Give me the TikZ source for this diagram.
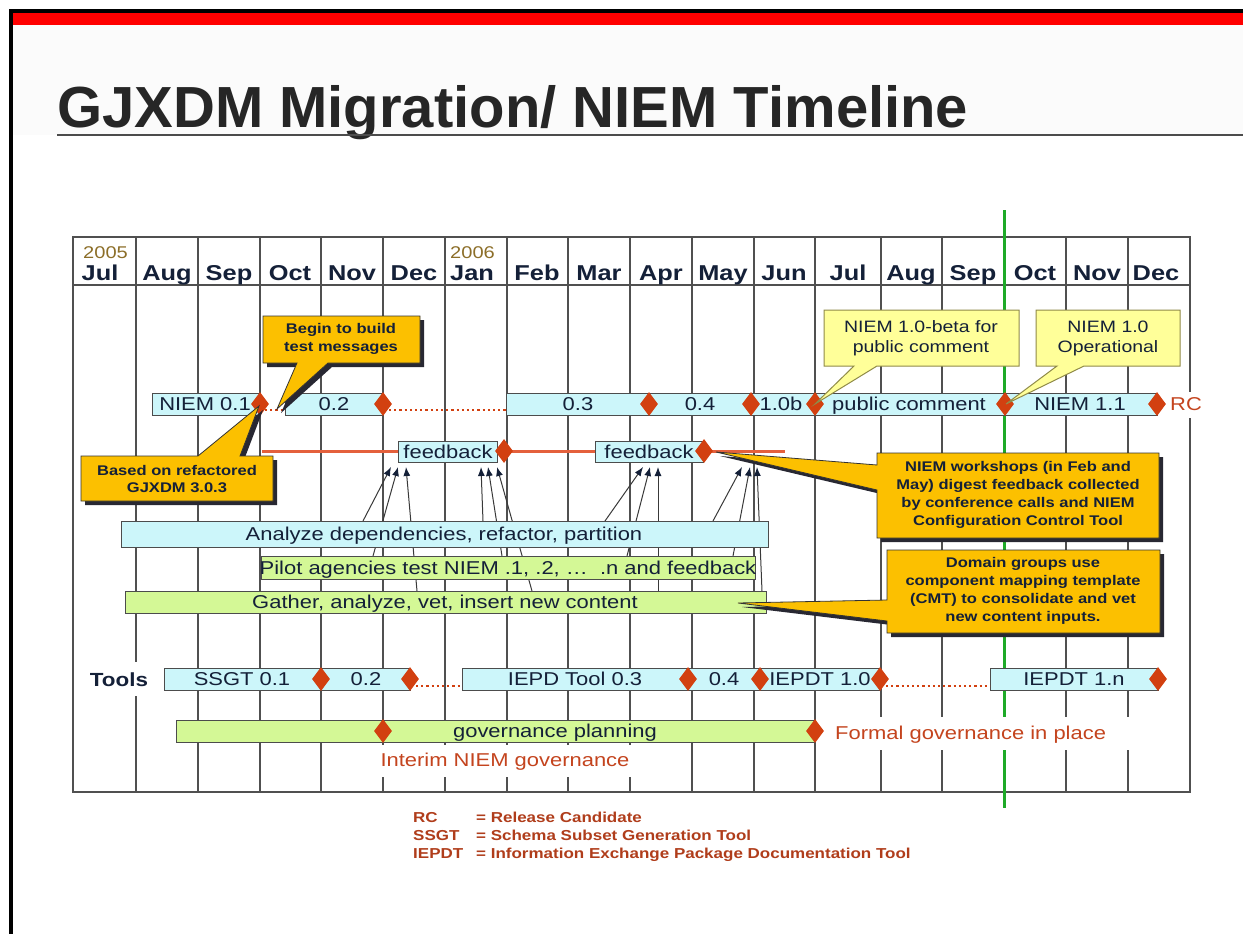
\documentclass[tikz,border=0pt]{standalone}
\usepackage{fontspec}
\setmainfont{Liberation Sans}
\newfontfamily\cf[FakeStretch=1.18]{Liberation Sans}
\usetikzlibrary{shapes.geometric,arrows.meta}
\definecolor{navy}{RGB}{20,32,56}
\definecolor{cyanfill}{RGB}{204,246,250}
\definecolor{greenfill}{RGB}{212,248,150}
\definecolor{diam}{RGB}{210,64,16}
\definecolor{redtxt}{RGB}{196,68,30}
\definecolor{gold}{RGB}{252,192,0}
\definecolor{lyellow}{RGB}{255,255,153}
\definecolor{gridc}{RGB}{80,80,80}
\definecolor{yearc}{RGB}{140,110,40}
\definecolor{titlec}{RGB}{38,38,38}
\definecolor{greenl}{RGB}{30,170,40}
\definecolor{fbline}{RGB}{228,96,60}
\definecolor{shadowc}{RGB}{40,40,50}
\tikzset{
  gridline/.style={draw=gridc, line width=1.4pt},
  barbox/.style={draw=gray!60!black, line width=0.8pt, inner sep=0pt, anchor=north west},
  cbar/.style={barbox, fill=cyanfill},
  gbar/.style={barbox, fill=greenfill},
  ms/.style={diamond, fill=diam, inner sep=0pt, minimum width=18pt, minimum height=24pt},
  blab/.style={font=\cf\fontsize{18.6}{20}\selectfont, text=navy, inner sep=0pt, anchor=base},
  rlab/.style={font=\cf\fontsize{18.6}{20}\selectfont, text=redtxt, inner sep=0pt, anchor=base},
  monthlab/.style={font=\cf\bfseries\fontsize{21.5}{22}\selectfont, text=navy, inner sep=0pt, anchor=base},
  yearlab/.style={font=\cf\fontsize{17}{17}\selectfont, text=yearc, inner sep=0pt, anchor=base west},
  dotline/.style={draw=diam, line width=2.2pt, dash pattern=on 2.2pt off 3pt},
  fbarrow/.style={draw=gray!45!black, line width=1pt, -{Latex[length=9pt,width=7pt,color=navy]}},
  goldcall/.style={fill=gold, draw=gray!40!black, line width=0.8pt},
  shadowcall/.style={fill=shadowc},
  ycall/.style={fill=lyellow, draw=gray!50!olive, line width=1pt},
  calltxt/.style={font=\cf\bfseries\fontsize{14}{17.5}\selectfont, text=navy, align=center, inner sep=0pt},
  ycalltxt/.style={font=\cf\fontsize{16.5}{20}\selectfont, text=navy, align=center, inner sep=0pt},
  legtxt/.style={font=\cf\bfseries\fontsize{14.4}{17}\selectfont, text=redtxt!90!black, inner sep=0pt, anchor=base west},
}
\begin{document}
\begin{tikzpicture}[x=1pt,y=-1pt]
\useasboundingbox (0,0) rectangle (1243,934);
\fill[white] (0,0) rectangle (1243,934);
% slide frame
\fill[black] (9,9) rectangle (1243,13);
\fill[black] (9,9) rectangle (13,934);
\fill[red] (13,13) rectangle (1243,25);
\fill[gray!3] (13,25) rectangle (1243,135);
% title
\node[anchor=base west, inner sep=0pt, text=titlec, font=\bfseries\fontsize{58}{60}\selectfont] (title) at (57,127) {GJXDM Migration/ NIEM Timeline};
\draw[gray!60!black, line width=1.5pt] (57,135) -- (1243,135);

% grid
\fill[white] (73,237) rectangle (1190,792);
\foreach \x in {136,198,260,321,383,445,507,568,630,692,754,815,881,942,1066,1128}
  \draw[gridline] (\x,237) -- (\x,792);
\draw[gridline] (1004,237) -- (1004,792);
\draw[gridline] (73,237) rectangle (1190,792);
\draw[gridline] (73,285) -- (1190,285);
% green line
\draw[greenl, line width=3pt] (1004,210) -- (1004,808);

% month labels
\node[yearlab] (y2005) at (83,258) {2005};
\node[yearlab] (y2006) at (450,258) {2006};
\foreach \x/\m [count=\i] in {100/Jul,167/Aug,229/Sep,290/Oct,352/Nov,414/Dec,472/Jan,537/Feb,599/Mar,661/Apr,723/May,784/Jun,848/Jul,911/Aug,973/Sep,1035/Oct,1097/Nov,1156/Dec}
  \node[monthlab] (mon\i) at (\x,280) {\m};

% white bands behind labels
\fill[white] (88,662) rectangle (150,696);
\fill[white] (375,745) rectangle (640,777);
\fill[white] (822,717) rectangle (1180,750);
\fill[white] (1166,392) rectangle (1205,418);

% feedback line
\draw[fbline, line width=3pt] (262,451) -- (785,451);

% arrows from activity bars to feedback
\coordinate (h1a) at (391,467); \coordinate (h1b) at (398,467); \coordinate (h1c) at (406,467);
\coordinate (h2a) at (481,467); \coordinate (h2b) at (488,467); \coordinate (h2c) at (497,467);
\coordinate (h3a) at (643,467); \coordinate (h3b) at (650,467); \coordinate (h3c) at (658,467);
\coordinate (h4a) at (742,467); \coordinate (h4b) at (750,467); \coordinate (h4c) at (757,467);
\coordinate (t1a) at (363,521); \coordinate (t1b) at (373,556); \coordinate (t1c) at (417,591);
\coordinate (t2a) at (483,521); \coordinate (t2b) at (502,556); \coordinate (t2c) at (532,591);
\coordinate (t3a) at (605,521); \coordinate (t3b) at (627,556); \coordinate (t3c) at (658,591);
\coordinate (t4a) at (713,521); \coordinate (t4b) at (733,556); \coordinate (t4c) at (762,591);
\foreach \g in {1,2,3,4} {
  \draw[fbarrow] (t\g a) -- (h\g a);
  \draw[fbarrow] (t\g b) -- (h\g b);
  \draw[fbarrow] (t\g c) -- (h\g c);
}

% NIEM row
\node[cbar, minimum width=107pt, minimum height=22pt] (n01) at (152,393) {};
\node[cbar, minimum width=98pt, minimum height=22pt] (n02) at (285,393) {};
\node[cbar, minimum width=651pt, minimum height=22pt] (n03) at (506,393) {};
\draw[dotline] (n01.east |- 0,410) -- (n02.west |- 0,410);
\draw[dotline] (n02.east |- 0,410) -- (n03.west |- 0,410);
\node[blab] (l01) at (205,410.5) {NIEM 0.1};
\node[blab] (l02) at (334,410.5) {0.2};
\node[blab] (l03) at (578,410.5) {0.3};
\node[blab] (l04) at (700,410.5) {0.4};
\node[blab] (l05) at (781,410.5) {1.0b};
\node[blab] (l06) at (909,410.5) {public comment};
\node[blab] (l07) at (1080,410.5) {NIEM 1.1};
\node[rlab] (lrc) at (1186,410.5) {RC};
\foreach \x [count=\i] in {260,383,649,751,815,1005,1157}
  \node[ms] (dn\i) at (\x,404) {};

% feedback boxes
\node[cbar, minimum width=99pt, minimum height=21pt] (fb1) at (398,441) {};
\node[cbar, minimum width=108pt, minimum height=21pt] (fb2) at (595,441) {};
\node[blab] (lfb1) at (448,458) {feedback};
\node[blab] (lfb2) at (649,458) {feedback};
\node[ms] (df1) at (504,451) {};
\node[ms] (df2) at (704,451) {};

% activity bars
\node[cbar, minimum width=647pt, minimum height=26pt] (ana) at (121,521) {};
\node[blab] (lana) at (444,540.5) {Analyze dependencies, refactor, partition};
\node[gbar, minimum width=494pt, minimum height=23pt] (pil) at (261,556) {};
\node[blab] (lpil) at (508,574) {Pilot agencies test NIEM .1, .2, \dots\ \ .n and feedback};
\node[gbar, minimum width=641pt, minimum height=22pt] (gat) at (125,591) {};
\node[blab] (lgat) at (445,608.5) {Gather, analyze, vet, insert new content};

% tools row
\node[font=\cf\bfseries\fontsize{19}{20}\selectfont, text=navy, inner sep=0pt, anchor=base] (tools) at (119,686) {Tools};
\node[cbar, minimum width=246pt, minimum height=22pt] (t01) at (164,668) {};
\node[cbar, minimum width=418pt, minimum height=22pt] (t02) at (462,668) {};
\node[cbar, minimum width=168pt, minimum height=22pt] (t03) at (990,668) {};
\draw[dotline] (t01.east |- 0,686) -- (t02.west |- 0,686);
\draw[dotline] (t02.east |- 0,686) -- (t03.west |- 0,686);
\node[blab] (lt1) at (242,685.5) {SSGT 0.1};
\node[blab] (lt2) at (366,685.5) {0.2};
\node[blab] (lt3) at (575,685.5) {IEPD Tool 0.3};
\node[blab] (lt4) at (724,685.5) {0.4};
\node[blab] (lt5) at (820,685.5) {IEPDT 1.0};
\node[blab] (lt6) at (1074,685.5) {IEPDT 1.n};
\foreach \x [count=\i] in {321,410,688,760,880,1158}
  \node[ms] (dt\i) at (\x,679) {};

% governance row
\node[gbar, minimum width=639pt, minimum height=22pt] (gov) at (176,720) {};
\node[blab] (lgov) at (555,737.5) {governance planning};
\node[ms] (dg1) at (383,731) {};
\node[ms] (dg2) at (815,731) {};
\node[rlab, anchor=base west] (lformal) at (835,739.5) {Formal governance in place};
\node[rlab] (linterim) at (505,766.5) {Interim NIEM governance};

% callouts: Begin to build
\fill[shadowcall, shift={(4,4)}] (263,316) -- (420,316) -- (420,363) -- (328,363) -- (277,409) -- (297,363) -- (263,363) -- cycle;
\path[goldcall] (263,316) -- (420,316) -- (420,363) -- (328,363) -- (277,409) -- (297,363) -- (263,363) -- cycle;
\node[calltxt] (cbegin) at (341,339) {Begin to build\\test messages};
% Based on refactored
\fill[shadowcall, shift={(4,4)}] (81,456) -- (198,456) -- (259,406) -- (240,456) -- (273,456) -- (273,501) -- (81,501) -- cycle;
\path[goldcall] (81,456) -- (198,456) -- (259,406) -- (240,456) -- (273,456) -- (273,501) -- (81,501) -- cycle;
\node[calltxt] (cbased) at (177,479) {Based on refactored\\GJXDM 3.0.3};
% beta
\path[ycall] (824,310) -- (1019,310) -- (1019,366) -- (877,366) -- (815,404) -- (854,366) -- (824,366) -- cycle;
\node[ycalltxt] (cbeta) at (921,338) {NIEM 1.0-beta for\\public comment};
% operational
\path[ycall] (1036,310) -- (1180,310) -- (1180,366) -- (1084,366) -- (1006,404) -- (1057,366) -- (1036,366) -- cycle;
\node[ycalltxt] (coper) at (1108,338) {NIEM 1.0\\Operational};
% workshops
\fill[shadowcall, shift={(4,4)}] (877,453) -- (1159,453) -- (1159,538) -- (877,538) -- (877,490) -- (716,452) -- (877,465) -- cycle;
\path[goldcall] (877,453) -- (1159,453) -- (1159,538) -- (877,538) -- (877,490) -- (716,452) -- (877,465) -- cycle;
\node[calltxt, font=\cf\bfseries\fontsize{14}{18}\selectfont] (cwork) at (1018,495) {NIEM workshops (in Feb and\\May) digest feedback collected\\by conference calls and NIEM\\Configuration Control Tool};
% domain groups
\fill[shadowcall, shift={(4,4)}] (887,550) -- (1160,550) -- (1160,633) -- (887,633) -- (887,621) -- (738,603) -- (887,600) -- cycle;
\path[goldcall] (887,550) -- (1160,550) -- (1160,633) -- (887,633) -- (887,621) -- (738,603) -- (887,600) -- cycle;
\node[calltxt, font=\cf\bfseries\fontsize{14}{18}\selectfont] (cdom) at (1023,591) {Domain groups use\\component mapping template\\(CMT) to consolidate and vet\\new content inputs.};

% legend
\node[legtxt] (lg1) at (413,822) {RC};
\node[legtxt] (lg2) at (413,840) {SSGT};
\node[legtxt] (lg3) at (413,858) {IEPDT};
\node[legtxt] (lg1b) at (476,822) {= Release Candidate};
\node[legtxt] (lg2b) at (476,840) {= Schema Subset Generation Tool};
\node[legtxt] (lg3b) at (476,858) {= Information Exchange Package Documentation Tool};
\end{tikzpicture}
\end{document}
